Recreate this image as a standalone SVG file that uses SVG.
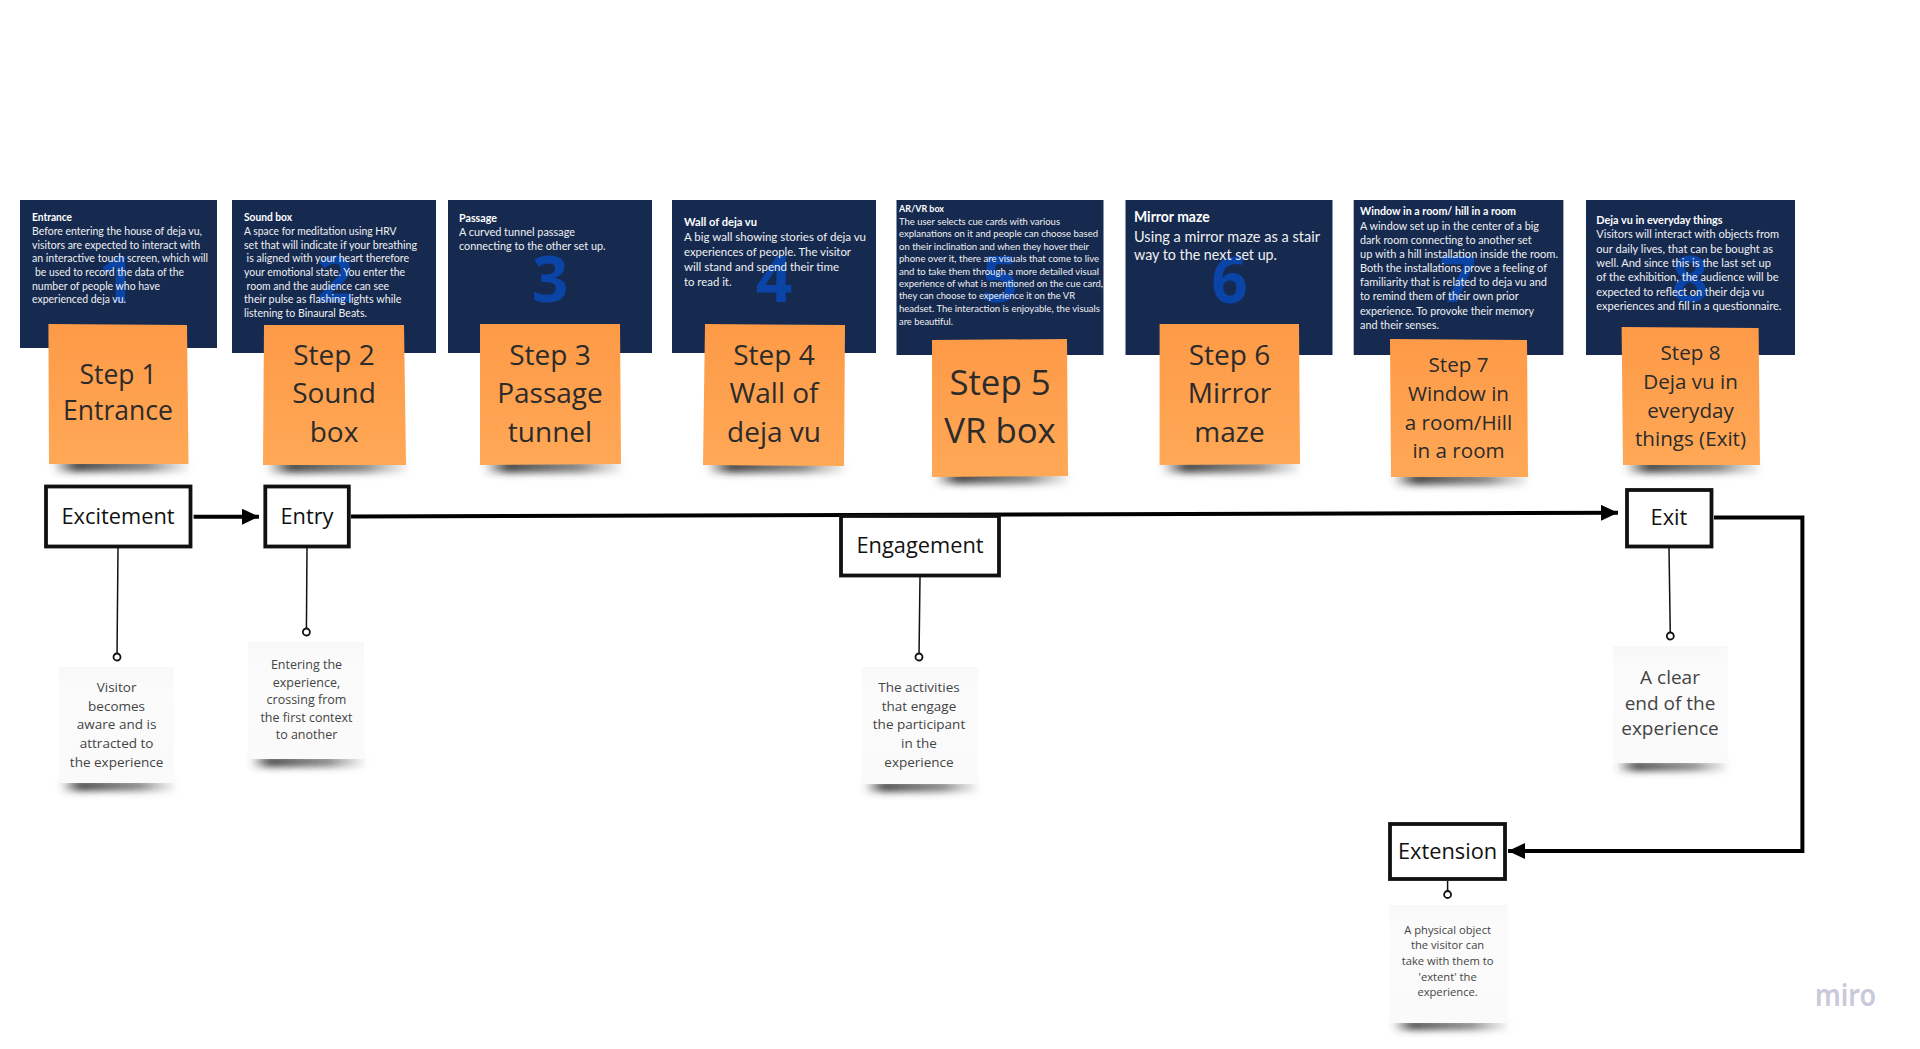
<svg xmlns="http://www.w3.org/2000/svg" width="1920" height="1049" viewBox="0 0 1920 1049">
<style>
.card{fill:#162a50}
.t{font-family:"Lato","Liberation Sans",sans-serif;fill:#f0f0f0}
.h{font-weight:700;fill:#fff}
.d{font-family:"Open Sans","Noto Sans",sans-serif;font-weight:700;font-size:64px;fill:#0a44a6;text-anchor:middle}
.st{fill:url(#og)}
.wh{fill:url(#wg)}
.sh{fill:url(#shg);filter:url(#bl)}
.s{font-family:"Open Sans","Noto Sans",sans-serif;fill:#2b2b2b;text-anchor:middle}
.w{font-family:"Open Sans","Noto Sans",sans-serif;fill:#444;text-anchor:middle}
.box{fill:#fff;stroke:#111;stroke-width:3.8}
.b{font-family:"Open Sans","Noto Sans",sans-serif;font-size:21.8px;fill:#111;text-anchor:middle}
.c1{fill:none;stroke:#000;stroke-width:4;stroke-linejoin:miter}
.c2{fill:none;stroke:#111;stroke-width:1.5}
</style>
<defs>
<linearGradient id="og" x1="0" y1="0" x2="0" y2="1"><stop offset="0" stop-color="#fd9a47"/><stop offset="1" stop-color="#ffa856"/></linearGradient>
<linearGradient id="wg" x1="0" y1="0" x2="0" y2="1"><stop offset="0" stop-color="#f8f8f8"/><stop offset="0.2" stop-color="#fbfbfb"/><stop offset="1" stop-color="#fafafa"/></linearGradient>
<linearGradient id="shg" x1="0" y1="0" x2="1" y2="0"><stop offset="0" stop-color="#333" stop-opacity="0"/><stop offset="0.18" stop-color="#333" stop-opacity=".9"/><stop offset="0.7" stop-color="#555" stop-opacity=".7"/><stop offset="1" stop-color="#777" stop-opacity=".1"/></linearGradient>
<filter id="bl" x="-20%" y="-150%" width="140%" height="400%"><feGaussianBlur stdDeviation="3.8"/></filter>
<marker id="arr" markerUnits="userSpaceOnUse" markerWidth="20" markerHeight="18" refX="17" refY="8" orient="auto"><path d="M0 0L17 8L0 16Z" fill="#000"/></marker>
<marker id="dot" markerUnits="userSpaceOnUse" markerWidth="11" markerHeight="11" refX="5.5" refY="5.5" orient="auto"><circle cx="5.5" cy="5.5" r="3.5" fill="#fff" stroke="#111" stroke-width="1.8"/></marker>
</defs>
<rect width="1920" height="1049" fill="#fff"/>

<g id="card1"><rect class="card" x="20" y="200" width="197" height="148"/>
<text class="d" x="117" y="302">1</text>
<text class="t h" x="32" y="221" textLength="40" lengthAdjust="spacingAndGlyphs" font-size="11">Entrance</text>
<text class="t" x="32" y="234.5" textLength="170" lengthAdjust="spacingAndGlyphs" font-size="11">Before entering the house of deja vu,</text>
<text class="t" x="32" y="248.5" textLength="168" lengthAdjust="spacingAndGlyphs" font-size="11">visitors are expected to interact with</text>
<text class="t" x="32" y="262" textLength="176" lengthAdjust="spacingAndGlyphs" font-size="11">an interactive touch screen, which will</text>
<text class="t" x="35" y="276" textLength="149" lengthAdjust="spacingAndGlyphs" font-size="11">be used to record the data of the</text>
<text class="t" x="32" y="289.5" textLength="128" lengthAdjust="spacingAndGlyphs" font-size="11">number of people who have</text>
<text class="t" x="32" y="303" textLength="94" lengthAdjust="spacingAndGlyphs" font-size="11">experienced deja vu.</text></g>

<g id="card2"><rect class="card" x="232" y="200" width="204" height="153"/>
<text class="d" x="335" y="302">2</text>
<text class="t h" x="244" y="221" textLength="48" lengthAdjust="spacingAndGlyphs" font-size="11">Sound box</text>
<text class="t" x="244" y="234.5" textLength="152.5" lengthAdjust="spacingAndGlyphs" font-size="11">A space for meditation using HRV</text>
<text class="t" x="244" y="248.5" textLength="173" lengthAdjust="spacingAndGlyphs" font-size="11">set that will indicate if your breathing</text>
<text class="t" x="246.6" y="262" textLength="162.4" lengthAdjust="spacingAndGlyphs" font-size="11">is aligned with your heart therefore</text>
<text class="t" x="244" y="276" textLength="161" lengthAdjust="spacingAndGlyphs" font-size="11">your emotional state. You enter the</text>
<text class="t" x="246.6" y="289.5" textLength="142.4" lengthAdjust="spacingAndGlyphs" font-size="11">room and the audience can see</text>
<text class="t" x="244" y="303" textLength="157.5" lengthAdjust="spacingAndGlyphs" font-size="11">their pulse as flashing lights while</text>
<text class="t" x="244" y="317" textLength="123" lengthAdjust="spacingAndGlyphs" font-size="11">listening to Binaural Beats.</text></g>

<g id="card3"><rect class="card" x="448" y="200" width="204" height="153"/>
<text class="d" x="550" y="302">3</text>
<text class="t h" x="459" y="222" textLength="38" lengthAdjust="spacingAndGlyphs" font-size="11">Passage</text>
<text class="t" x="459" y="236" textLength="116" lengthAdjust="spacingAndGlyphs" font-size="11">A curved tunnel passage</text>
<text class="t" x="459" y="250" textLength="146.6" lengthAdjust="spacingAndGlyphs" font-size="11">connecting to the other set up.</text></g>

<g id="card4"><rect class="card" x="672" y="200" width="204" height="153"/>
<text class="d" x="774" y="302">4</text>
<text class="t h" x="684" y="226" textLength="73" lengthAdjust="spacingAndGlyphs" font-size="12">Wall of deja vu</text>
<text class="t" x="684" y="241" textLength="182" lengthAdjust="spacingAndGlyphs" font-size="12">A big wall showing stories of deja vu</text>
<text class="t" x="684" y="256" textLength="167" lengthAdjust="spacingAndGlyphs" font-size="12">experiences of people. The visitor</text>
<text class="t" x="684" y="271" textLength="155" lengthAdjust="spacingAndGlyphs" font-size="12">will stand and spend their time</text>
<text class="t" x="684" y="286" textLength="47.6" lengthAdjust="spacingAndGlyphs" font-size="12">to read it.</text></g>

<g id="card5"><rect class="card" x="896.5" y="200" width="207" height="155"/>
<text class="d" x="1000" y="302">5</text>
<text class="t h" x="899" y="211.5" textLength="45" lengthAdjust="spacingAndGlyphs" font-size="10">AR/VR box</text>
<text class="t" x="899" y="224.5" textLength="161" lengthAdjust="spacingAndGlyphs" font-size="10">The user selects cue cards with various</text>
<text class="t" x="899" y="237" textLength="199" lengthAdjust="spacingAndGlyphs" font-size="10">explanations on it and people can choose based</text>
<text class="t" x="899" y="249.5" textLength="190" lengthAdjust="spacingAndGlyphs" font-size="10">on their inclination and when they hover their</text>
<text class="t" x="899" y="262" textLength="200" lengthAdjust="spacingAndGlyphs" font-size="10">phone over it, there are visuals that come to live</text>
<text class="t" x="899" y="274.5" textLength="200" lengthAdjust="spacingAndGlyphs" font-size="10">and to take them through a more detailed visual</text>
<text class="t" x="899" y="287" textLength="204" lengthAdjust="spacingAndGlyphs" font-size="10">experience of what is mentioned on the cue card,</text>
<text class="t" x="899" y="299" textLength="176" lengthAdjust="spacingAndGlyphs" font-size="10">they can choose to experience it on the VR</text>
<text class="t" x="899" y="311.5" textLength="201" lengthAdjust="spacingAndGlyphs" font-size="10">headset. The interaction is enjoyable, the visuals</text>
<text class="t" x="899" y="324.5" textLength="54" lengthAdjust="spacingAndGlyphs" font-size="10">are beautiful.</text></g>

<g id="card6"><rect class="card" x="1125.5" y="200" width="207" height="155"/>
<text class="d" x="1229.5" y="303">6</text>
<text class="t h" x="1134" y="222" textLength="75.7" lengthAdjust="spacingAndGlyphs" font-size="14.5">Mirror maze</text>
<text class="t" x="1134" y="241.5" textLength="186" lengthAdjust="spacingAndGlyphs" font-size="14.5">Using a mirror maze as a stair</text>
<text class="t" x="1134" y="260" textLength="143" lengthAdjust="spacingAndGlyphs" font-size="14.5">way to the next set up.</text></g>

<g id="card7"><rect class="card" x="1353.7" y="200" width="209.7" height="155"/>
<text class="d" x="1458" y="302">7</text>
<text class="t h" x="1360" y="215.3" textLength="156" lengthAdjust="spacingAndGlyphs" font-size="11.5">Window in a room/ hill in a room</text>
<text class="t" x="1360" y="229.7" textLength="179" lengthAdjust="spacingAndGlyphs" font-size="11.5">A window set up in the center of a big</text>
<text class="t" x="1360" y="244" textLength="171.6" lengthAdjust="spacingAndGlyphs" font-size="11.5">dark room connecting to another set</text>
<text class="t" x="1360" y="258" textLength="198" lengthAdjust="spacingAndGlyphs" font-size="11.5">up with a hill installation inside the room.</text>
<text class="t" x="1360" y="272" textLength="187" lengthAdjust="spacingAndGlyphs" font-size="11.5">Both the installations prove a feeling of</text>
<text class="t" x="1360" y="286.3" textLength="187" lengthAdjust="spacingAndGlyphs" font-size="11.5">familiarity that is related to deja vu and</text>
<text class="t" x="1360" y="300.3" textLength="158.6" lengthAdjust="spacingAndGlyphs" font-size="11.5">to remind them of their own prior</text>
<text class="t" x="1360" y="314.7" textLength="174" lengthAdjust="spacingAndGlyphs" font-size="11.5">experience. To provoke their memory</text>
<text class="t" x="1360" y="329" textLength="79" lengthAdjust="spacingAndGlyphs" font-size="11.5">and their senses.</text></g>

<g id="card8"><rect class="card" x="1586" y="200" width="209" height="155"/>
<text class="d" x="1690" y="302">8</text>
<text class="t h" x="1596.3" y="224" textLength="126.3" lengthAdjust="spacingAndGlyphs" font-size="11.5">Deja vu in everyday things</text>
<text class="t" x="1596.3" y="238" textLength="182.7" lengthAdjust="spacingAndGlyphs" font-size="11.5">Visitors will interact with objects from</text>
<text class="t" x="1596.3" y="253" textLength="176.7" lengthAdjust="spacingAndGlyphs" font-size="11.5">our daily lives, that can be bought as</text>
<text class="t" x="1596.3" y="267.3" textLength="174.7" lengthAdjust="spacingAndGlyphs" font-size="11.5">well. And since this is the last set up</text>
<text class="t" x="1596.3" y="281.3" textLength="182.2" lengthAdjust="spacingAndGlyphs" font-size="11.5">of the exhibition, the audience will be</text>
<text class="t" x="1596.3" y="296.3" textLength="167.7" lengthAdjust="spacingAndGlyphs" font-size="11.5">expected to reflect on their deja vu</text>
<text class="t" x="1596.3" y="310.3" textLength="185.2" lengthAdjust="spacingAndGlyphs" font-size="11.5">experiences and fill in a questionnaire.</text></g>

<g id="sticky1"><rect class="sh" x="52" y="459" width="136" height="13"/><polygon class="st" points="48.4,324 187,325 188.5,464 49,464"/>
<text class="s" x="118" y="384" font-size="26.5">Step 1</text><text class="s" x="118" y="420" font-size="26.5">Entrance</text></g>
<g id="sticky2"><rect class="sh" x="266" y="460" width="140" height="13"/><polygon class="st" points="264,325 404,325 406,465 263,465"/>
<text class="s" x="334" y="365" font-size="28">Step 2</text><text class="s" x="334" y="403" font-size="28">Sound</text><text class="s" x="334" y="442" font-size="28">box</text></g>
<g id="sticky3"><rect class="sh" x="483" y="460" width="138" height="13"/><polygon class="st" points="480,324 620,324 621,464 480,465"/>
<text class="s" x="550" y="365" font-size="28">Step 3</text><text class="s" x="550" y="403" font-size="28">Passage</text><text class="s" x="550" y="442" font-size="28">tunnel</text></g>
<g id="sticky4"><rect class="sh" x="706" y="460" width="138" height="13"/><polygon class="st" points="705,324 845,325 844,466 703,465"/>
<text class="s" x="774" y="365" font-size="28">Step 4</text><text class="s" x="774" y="403" font-size="28">Wall of</text><text class="s" x="774" y="442" font-size="28">deja vu</text></g>
<g id="sticky5"><rect class="sh" x="934" y="471" width="134" height="13"/><polygon class="st" points="932,340 1067,339 1068,476 932,477"/>
<text class="s" x="1000" y="395" font-size="34.8">Step 5</text><text class="s" x="1000" y="443" font-size="34.8">VR box</text></g>
<g id="sticky6"><rect class="sh" x="1161" y="460" width="138" height="13"/><polygon class="st" points="1159.6,324 1299,324 1300,464 1159.6,465"/>
<text class="s" x="1229.5" y="365" font-size="28">Step 6</text><text class="s" x="1229.5" y="403" font-size="28">Mirror</text><text class="s" x="1229.5" y="442" font-size="28">maze</text></g>
<g id="sticky7"><rect class="sh" x="1392" y="472" width="135" height="13"/><polygon class="st" points="1390,339 1527,340 1528,477 1391,477"/>
<text class="s" x="1458.5" y="372" font-size="20.6">Step 7</text><text class="s" x="1458.5" y="401" font-size="20.6">Window in</text><text class="s" x="1458.5" y="429.5" font-size="20.6">a room/Hill</text><text class="s" x="1458.5" y="458" font-size="20.6">in a room</text></g>
<g id="sticky8"><rect class="sh" x="1624" y="460" width="135" height="13"/><polygon class="st" points="1621.6,327 1758.6,328 1760,465 1623,465"/>
<text class="s" x="1690.5" y="359.5" font-size="20.6">Step 8</text><text class="s" x="1690.5" y="388.5" font-size="20.6">Deja vu in</text><text class="s" x="1690.5" y="417.5" font-size="20.6">everyday</text><text class="s" x="1690.5" y="445.5" font-size="20.6">things (Exit)</text></g>

<g id="connectors">
<line class="c1" x1="193.6" y1="516.7" x2="259" y2="516.7" marker-end="url(#arr)"/>
<line class="c1" x1="351" y1="516.5" x2="1618" y2="512.8" marker-end="url(#arr)"/>
<polyline class="c1" points="1714,517.5 1802.4,517.5 1802.4,851 1508,851" marker-end="url(#arr)"/>
<line class="c2" x1="118" y1="548" x2="117" y2="657" marker-end="url(#dot)"/>
<line class="c2" x1="307" y1="548" x2="306.4" y2="632" marker-end="url(#dot)"/>
<line class="c2" x1="920" y1="577" x2="919" y2="657" marker-end="url(#dot)"/>
<line class="c2" x1="1669" y1="548" x2="1670.3" y2="636" marker-end="url(#dot)"/>
<line class="c2" x1="1447.6" y1="881" x2="1447.6" y2="894.5" marker-end="url(#dot)"/>
</g>

<g id="excitement"><rect class="box" x="46" y="486.5" width="144.5" height="60"/><text class="b" x="118" y="523.5">Excitement</text></g>
<g id="entry"><rect class="box" x="265.3" y="486.5" width="83.5" height="60"/><text class="b" x="307" y="523.5">Entry</text></g>
<g id="engagement"><rect class="box" x="841" y="516" width="158" height="59.5"/><text class="b" x="920" y="553">Engagement</text></g>
<g id="exit"><rect class="box" x="1627" y="490" width="84.5" height="56.5"/><text class="b" x="1669" y="524.5">Exit</text></g>
<g id="extension"><rect class="box" x="1390" y="824" width="115" height="55"/><text class="b" x="1447.6" y="858.5">Extension</text></g>

<g id="note1"><rect class="sh" x="60" y="780" width="114" height="11"/><rect class="wh" x="59" y="667" width="115" height="116"/>
<text class="w" font-size="13.5" x="116.6" y="692">Visitor</text><text class="w" font-size="13.5" x="116.6" y="711">becomes</text><text class="w" font-size="13.5" x="116.6" y="729">aware and is</text><text class="w" font-size="13.5" x="116.6" y="748">attracted to</text><text class="w" font-size="13.5" x="116.6" y="767">the experience</text></g>
<g id="note2"><rect class="sh" x="250" y="756" width="114" height="11"/><rect class="wh" x="248" y="642" width="116" height="117"/>
<text class="w" font-size="12.5" x="306.5" y="668.5">Entering the</text><text class="w" font-size="12.5" x="306.5" y="686.5">experience,</text><text class="w" font-size="12.5" x="306.5" y="703.5">crossing from</text><text class="w" font-size="12.5" x="306.5" y="721.5">the first context</text><text class="w" font-size="12.5" x="306.5" y="738.5">to another</text></g>
<g id="note3"><rect class="sh" x="864" y="781" width="113" height="11"/><rect class="wh" x="862" y="667" width="115.7" height="117"/>
<text class="w" font-size="13.5" x="919" y="692">The activities</text><text class="w" font-size="13.5" x="919" y="711">that engage</text><text class="w" font-size="13.5" x="919" y="729">the participant</text><text class="w" font-size="13.5" x="919" y="748">in the</text><text class="w" font-size="13.5" x="919" y="767">experience</text></g>
<g id="note4"><rect class="sh" x="1616" y="761" width="111" height="10"/><rect class="wh" x="1613" y="646" width="114.6" height="117"/>
<text class="w" font-size="19" x="1670" y="683.5">A clear</text><text class="w" font-size="19" x="1670" y="709.5">end of the</text><text class="w" font-size="19" x="1670" y="735">experience</text></g>
<g id="note5"><rect class="sh" x="1392" y="1020" width="115" height="10"/><rect class="wh" x="1389.7" y="905" width="117.9" height="118"/>
<text class="w" font-size="11.2" x="1447.6" y="933.5">A physical object</text><text class="w" font-size="11.2" x="1447.6" y="949">the visitor can</text><text class="w" font-size="11.2" x="1447.6" y="964.5">take with them to</text><text class="w" font-size="11.2" x="1447.6" y="980.5">'extent' the</text><text class="w" font-size="11.2" x="1447.6" y="996">experience.</text></g>

<text x="1815" y="1005.5" font-family="Noto Sans,Open Sans,sans-serif" font-weight="600" font-size="31" fill="#c9c9da" textLength="61" lengthAdjust="spacingAndGlyphs">miro</text>
</svg>
